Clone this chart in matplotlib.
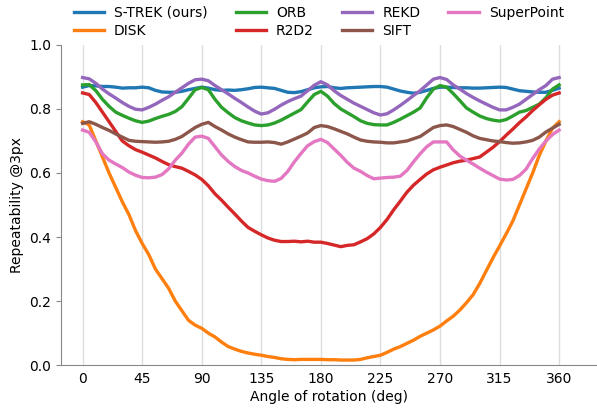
import numpy as np
import matplotlib
matplotlib.use('Agg')
import matplotlib.pyplot as plt

# angles every 5 degrees
angles = np.arange(0, 361, 5)

strek = [0.868, 0.873, 0.872, 0.870, 0.870, 0.868, 0.865, 0.866, 0.866, 0.868,
         0.866, 0.858, 0.853, 0.852, 0.852, 0.855, 0.860, 0.864, 0.868, 0.865,
         0.860, 0.858, 0.859, 0.858, 0.860, 0.863, 0.867, 0.868, 0.866, 0.864,
         0.858, 0.852, 0.851, 0.854, 0.860, 0.866, 0.869, 0.870, 0.866, 0.864,
         0.866, 0.867, 0.868, 0.869, 0.870, 0.870, 0.868, 0.862, 0.856, 0.852,
         0.849, 0.852, 0.858, 0.864, 0.868, 0.868, 0.867, 0.866, 0.866, 0.865,
         0.865, 0.866, 0.867, 0.868, 0.867, 0.862, 0.857, 0.855, 0.853, 0.852,
         0.852, 0.858, 0.865]

disk = [0.760, 0.750, 0.700, 0.650, 0.600, 0.555, 0.510, 0.470, 0.420, 0.380,
        0.345, 0.300, 0.270, 0.240, 0.200, 0.170, 0.140, 0.125, 0.115, 0.100,
        0.088, 0.072, 0.058, 0.050, 0.043, 0.038, 0.034, 0.031, 0.027, 0.024,
        0.020, 0.018, 0.017, 0.018, 0.018, 0.018, 0.018, 0.017, 0.017, 0.016,
        0.016, 0.016, 0.018, 0.023, 0.027, 0.031, 0.040, 0.050, 0.058, 0.068,
        0.078, 0.090, 0.100, 0.110, 0.122, 0.138, 0.153, 0.172, 0.195, 0.220,
        0.255, 0.295, 0.335, 0.372, 0.410, 0.450, 0.500, 0.550, 0.600, 0.655,
        0.700, 0.740, 0.760]

orb = [0.875, 0.876, 0.857, 0.830, 0.808, 0.790, 0.780, 0.771, 0.763, 0.758,
       0.762, 0.770, 0.777, 0.783, 0.792, 0.807, 0.833, 0.860, 0.867, 0.860,
       0.830, 0.805, 0.788, 0.773, 0.763, 0.756, 0.750, 0.748, 0.750, 0.756,
       0.765, 0.776, 0.787, 0.798, 0.822, 0.845, 0.855, 0.840, 0.817, 0.800,
       0.788, 0.776, 0.763, 0.755, 0.751, 0.750, 0.750, 0.758, 0.768, 0.779,
       0.790, 0.803, 0.835, 0.862, 0.873, 0.868, 0.848, 0.826, 0.803, 0.790,
       0.778, 0.770, 0.765, 0.762, 0.767, 0.778, 0.790, 0.795, 0.805, 0.815,
       0.835, 0.862, 0.875]

r2d2 = [0.850, 0.845, 0.820, 0.790, 0.760, 0.730, 0.700, 0.685, 0.673, 0.665,
        0.656, 0.647, 0.636, 0.626, 0.620, 0.615, 0.605, 0.594, 0.580, 0.560,
        0.535, 0.515, 0.493, 0.472, 0.450, 0.430, 0.418, 0.407, 0.397, 0.390,
        0.386, 0.386, 0.387, 0.385, 0.387, 0.384, 0.384, 0.380, 0.375, 0.370,
        0.374, 0.376, 0.385, 0.395, 0.410, 0.430, 0.455, 0.485, 0.512, 0.540,
        0.562, 0.580, 0.597, 0.610, 0.618, 0.625, 0.632, 0.637, 0.640, 0.645,
        0.650, 0.665, 0.680, 0.698, 0.718, 0.737, 0.757, 0.775, 0.795, 0.813,
        0.830, 0.843, 0.850]

rekd = [0.898, 0.894, 0.880, 0.862, 0.847, 0.834, 0.820, 0.808, 0.799, 0.797,
        0.805, 0.815, 0.827, 0.838, 0.852, 0.866, 0.880, 0.891, 0.893, 0.888,
        0.873, 0.860, 0.847, 0.833, 0.820, 0.806, 0.793, 0.784, 0.788, 0.799,
        0.812, 0.823, 0.832, 0.840, 0.857, 0.874, 0.885, 0.875, 0.857, 0.842,
        0.830, 0.818, 0.808, 0.798, 0.788, 0.781, 0.785, 0.797, 0.811, 0.826,
        0.842, 0.857, 0.875, 0.893, 0.898, 0.892, 0.875, 0.862, 0.848, 0.836,
        0.825, 0.815, 0.805, 0.797, 0.797, 0.805, 0.815, 0.830, 0.845, 0.860,
        0.873, 0.893, 0.898]

sift = [0.755, 0.760, 0.752, 0.742, 0.733, 0.722, 0.712, 0.702, 0.699, 0.698,
        0.697, 0.696, 0.697, 0.699, 0.705, 0.714, 0.728, 0.742, 0.752, 0.758,
        0.745, 0.734, 0.722, 0.712, 0.704, 0.697, 0.696, 0.696, 0.697, 0.695,
        0.690, 0.697, 0.706, 0.715, 0.725, 0.742, 0.748, 0.745, 0.738, 0.730,
        0.722, 0.712, 0.703, 0.699, 0.697, 0.696, 0.694, 0.694, 0.697, 0.700,
        0.707, 0.714, 0.728, 0.742, 0.748, 0.750, 0.745, 0.736, 0.727, 0.716,
        0.708, 0.704, 0.700, 0.698, 0.695, 0.693, 0.694, 0.697, 0.702, 0.712,
        0.728, 0.740, 0.752]

superpoint = [0.734, 0.727, 0.697, 0.660, 0.640, 0.628, 0.617, 0.603, 0.593, 0.586,
              0.585, 0.587, 0.595, 0.613, 0.640, 0.662, 0.690, 0.712, 0.715, 0.708,
              0.682, 0.656, 0.636, 0.620, 0.608, 0.600, 0.590, 0.581, 0.576, 0.574,
              0.583, 0.605, 0.635, 0.661, 0.685, 0.698, 0.705, 0.695, 0.675, 0.655,
              0.633, 0.615, 0.605, 0.592, 0.582, 0.584, 0.586, 0.587, 0.590, 0.608,
              0.635, 0.660, 0.682, 0.697, 0.697, 0.697, 0.672, 0.653, 0.640, 0.628,
              0.615, 0.603, 0.592, 0.581, 0.578, 0.580, 0.592, 0.612, 0.645, 0.675,
              0.700, 0.720, 0.734]

series = [
    ('S-TREK (ours)', strek, '#1f77b4'),
    ('DISK', disk, '#ff7f0e'),
    ('ORB', orb, '#2ca02c'),
    ('R2D2', r2d2, '#d62728'),
    ('REKD', rekd, '#9467bd'),
    ('SIFT', sift, '#8c564b'),
    ('SuperPoint', superpoint, '#e377c2'),
]

plt.rcParams['font.family'] = ['DejaVu Sans']
plt.rcParams['font.size'] = 10

fig = plt.figure(figsize=(5.97, 4.08), dpi=100)
ax = fig.add_axes([0.102, 0.105, 0.898, 0.785])

for name, vals, col in series:
    ax.plot(angles, vals, color=col, lw=2.4, label=name)

ax.set_xlim(-16.4, 388.6)
ax.set_ylim(0, 1.0)
ax.set_xticks(np.arange(0, 361, 45))
ax.set_yticks(np.arange(0, 1.01, 0.2))
ax.xaxis.grid(True, color='#dddddd', lw=1)
ax.tick_params(axis='x', length=0, pad=5, labelsize=10)
ax.tick_params(axis='y', color='#888888', labelsize=10)
for s in ['top', 'right']:
    ax.spines[s].set_visible(False)
for s in ['left', 'bottom']:
    ax.spines[s].set_color('#888888')
ax.set_xlabel('Angle of rotation (deg)', fontsize=10, labelpad=3)
ax.set_ylabel('Repeatability @3px', fontsize=10)

fig.legend(loc='upper left', bbox_to_anchor=(68 / 597, 1.0), ncol=4, frameon=False,
           fontsize=10, handlelength=2.2, columnspacing=2.0, handletextpad=0.72,
           borderaxespad=0, labelspacing=0.32)

fig.savefig('out.png', dpi=100)
